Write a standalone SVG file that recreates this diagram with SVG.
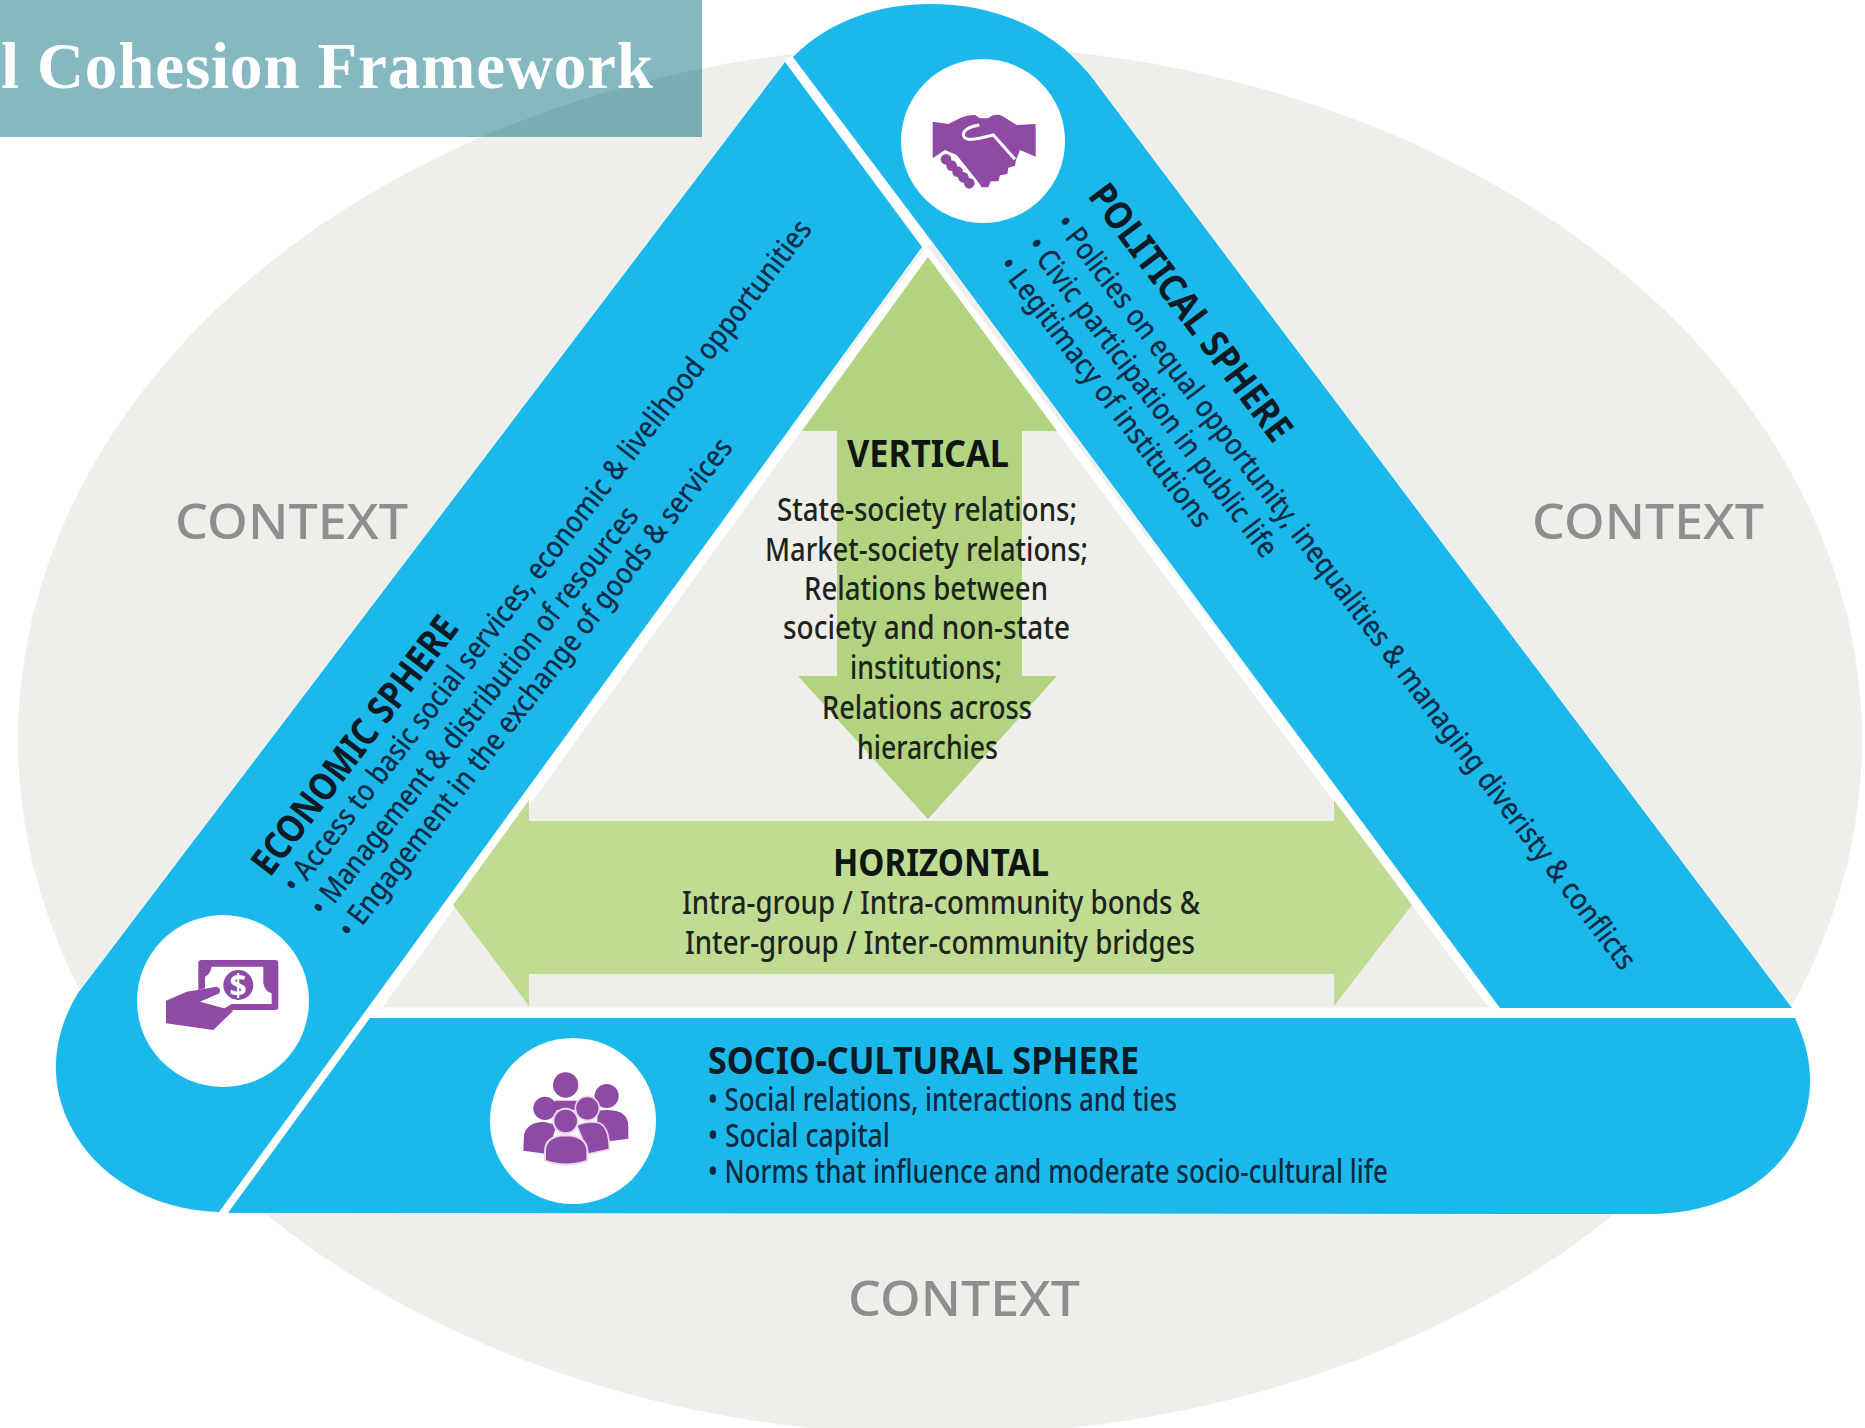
<svg xmlns="http://www.w3.org/2000/svg" width="1865" height="1428" viewBox="0 0 1865 1428">
<defs>
<style>
.band{fill:#1bb9eb;stroke:#f6fbfb;stroke-width:1.5;paint-order:stroke}
.disc{fill:#fff}
.ico{fill:#8e4aa5}
.s{font-family:"Noto Sans","Liberation Sans",sans-serif}
.ctx{font-size:49px;font-weight:500;fill:#8d8e8d;text-anchor:start}
.h{font-size:38px;font-weight:700;fill:#0f1512}
.b{font-size:33px;font-weight:500;fill:#1d2420}
.bs{font-size:33px;font-weight:500;fill:#0d2a42}
.rh{font-size:38px;font-weight:700;fill:#0b1a24}
.rb{font-size:30px;font-weight:500;fill:#0c2c48}
</style>
<clipPath id="titleClip"><rect x="0" y="0" width="702" height="137"/></clipPath>
</defs>
<rect width="1865" height="1428" fill="#fff"/>
<ellipse id="context-ground" cx="940" cy="740" rx="922" ry="695" fill="#efeeea"/>

<g id="inner-triangle">
<polygon points="927,246 1506,1012 362,1012" fill="#fff"/>
<polygon points="927,258 1489,1008 382,1008" fill="#efeeea"/>
<path d="M789,58 L928,246 M368,1013 L1800,1013 M370,1016 L224,1213" fill="none" stroke="#fff" stroke-width="11"/>
</g>

<g id="connectors">
<polygon id="vertical-arrow" fill="#b2d37f" points="928,257 1057,431 1022,431 1022,676 1057,676 928,819 798,676 837,676 837,431 802,431"/>
<polygon id="horizontal-arrow" fill="#c0dc93" points="453,905 529,800 529,821 1334,821 1334,800 1412,905 1334,1006 1334,974 529,974 529,1006"/>
</g>

<g id="economic-sphere">
<path class="band" d="M785,62 L922,247 L219,1212 C150,1210 95,1175 70,1125 C50,1085 50,1040 78,993 Z"/>
<circle class="disc" cx="223" cy="1001" r="86"/>
<g class="ico" transform="translate(150,930) scale(.3333)">
<path fill-rule="evenodd" d="M155,90 H375 Q385,90 385,100 V230 Q385,240 375,240 H215 L245,222 H365 L365,190 Q345,185 340,160 V110 H185 Q180,135 165,140 L165,175 L145,180 V100 Q145,90 155,90 Z"/>
<circle cx="265" cy="165" r="45"/>
<path d="M48,212 L110,185 L200,170 Q215,175 208,190 L150,215 L250,242 L190,300 L48,280 Z"/>
</g>
<text class="s" x="238" y="996" font-size="30" font-weight="700" fill="#fff" text-anchor="middle">$</text>
<text class="s rh" transform="translate(270,878) rotate(-52.7)" textLength="314" lengthAdjust="spacingAndGlyphs">ECONOMIC SPHERE</text>
<text class="s rb" transform="translate(297,895) rotate(-52.2)" textLength="842" lengthAdjust="spacingAndGlyphs">• Access to basic social services, economic &amp; livelihood opportunities</text>
<text class="s rb" transform="translate(324,918) rotate(-51.8)" textLength="511" lengthAdjust="spacingAndGlyphs">• Management &amp; distribution of resources</text>
<text class="s rb" transform="translate(352,940) rotate(-52.2)" textLength="623" lengthAdjust="spacingAndGlyphs">• Engagement in the exchange of goods &amp; services</text>
</g>

<g id="political-sphere">
<path class="band" d="M793,57 C830,20 880,4 930,4 C990,4 1050,25 1090,75 L1792,1008 L1500,1008 L933,243 Z"/>
<circle class="disc" cx="983" cy="141" r="82"/>
<g transform="translate(920,100) scale(.3333)">
<path class="ico" d="M38,65 L85,72 C110,60 130,45 165,45 L180,55 L205,55 C215,45 235,40 250,50 L290,75 L347,72 L347,170 L300,150 L288,180 L285,197 L265,203 L262,222 L240,226 L235,244 L212,244 L205,262 L185,262 L170,240 L110,165 L75,150 L38,175 Z"/>
<path d="M178,75 C150,80 130,90 130,105 C135,125 160,120 220,105 L285,178" fill="none" stroke="#fff" stroke-width="9"/>
<path d="M78,178 L150,250" stroke="#fff" stroke-width="40" stroke-linecap="round"/>
<g class="ico"><circle cx="78" cy="178" r="16"/><circle cx="95" cy="197" r="16"/><circle cx="113" cy="215" r="16"/><circle cx="130" cy="232" r="16"/><circle cx="148" cy="250" r="16"/></g>
</g>
<text class="s rh" transform="translate(1087,196) rotate(53.1)" textLength="311" lengthAdjust="spacingAndGlyphs">POLITICAL SPHERE</text>
<text class="s rb" transform="translate(1054,224) rotate(52.8)" textLength="939" lengthAdjust="spacingAndGlyphs">• Policies on equal opportunity, inequalities &amp; managing diveristy &amp; conflicts</text>
<text class="s rb" transform="translate(1025,246) rotate(52.8)" textLength="394" lengthAdjust="spacingAndGlyphs">• Civic participation in public life</text>
<text class="s rb" transform="translate(997,266) rotate(52.8)" textLength="331" lengthAdjust="spacingAndGlyphs">• Legitimacy of institutions</text>
</g>

<g id="socio-cultural-sphere">
<path class="band" d="M370,1018 L1795,1018 C1805,1040 1810,1060 1810,1080 C1810,1160 1740,1214 1650,1214 L228,1213 Z"/>
<circle class="disc" cx="573" cy="1121" r="83"/>
<g class="ico" transform="translate(510,1060) scale(.3333)">
<circle cx="167" cy="75" r="38"/>
<path d="M135,122 H200 V150 H135 Z"/>
<circle cx="290" cy="108" r="36"/>
<path d="M262,152 Q355,140 355,200 L355,236 L298,244 L262,200 Z"/>
<circle cx="105" cy="145" r="35"/>
<path d="M40,272 L42,225 Q50,188 100,185 L140,195 L112,282 Z"/>
<circle cx="232" cy="145" r="36" stroke="#e9d7ee" stroke-width="5"/>
<path d="M200,195 Q240,180 270,190 Q298,205 298,268 L235,282 Z" stroke="#e9d7ee" stroke-width="5"/>
<circle cx="167" cy="183" r="37" stroke="#e9d7ee" stroke-width="6"/>
<path d="M105,302 L105,270 Q108,228 167,226 Q228,228 232,270 L232,302 Q170,325 105,302 Z" stroke="#e9d7ee" stroke-width="6"/>
</g>
<text class="s rh" x="708" y="1074" textLength="431" lengthAdjust="spacingAndGlyphs">SOCIO-CULTURAL SPHERE</text>
<text class="s bs" x="708" y="1111" textLength="469" lengthAdjust="spacingAndGlyphs">• Social relations, interactions and ties</text>
<text class="s bs" x="708" y="1147" textLength="182" lengthAdjust="spacingAndGlyphs">• Social capital</text>
<text class="s bs" x="708" y="1183" textLength="680" lengthAdjust="spacingAndGlyphs">• Norms that influence and moderate socio-cultural life</text>
</g>

<g id="vertical-label">
<text class="s h" x="847" y="467" textLength="162" lengthAdjust="spacingAndGlyphs">VERTICAL</text>
<text class="s b" x="777" y="521" textLength="300" lengthAdjust="spacingAndGlyphs">State-society relations;</text>
<text class="s b" x="765" y="561" textLength="323" lengthAdjust="spacingAndGlyphs">Market-society relations;</text>
<text class="s b" x="804" y="600" textLength="244" lengthAdjust="spacingAndGlyphs">Relations between</text>
<text class="s b" x="783" y="639" textLength="287" lengthAdjust="spacingAndGlyphs">society and non-state</text>
<text class="s b" x="850" y="679" textLength="152" lengthAdjust="spacingAndGlyphs">institutions;</text>
<text class="s b" x="822" y="719" textLength="210" lengthAdjust="spacingAndGlyphs">Relations across</text>
<text class="s b" x="857" y="759" textLength="141" lengthAdjust="spacingAndGlyphs">hierarchies</text>
</g>

<g id="horizontal-label">
<text class="s h" x="833" y="876" textLength="216" lengthAdjust="spacingAndGlyphs">HORIZONTAL</text>
<text class="s b" x="682" y="914" textLength="518" lengthAdjust="spacingAndGlyphs">Intra-group / Intra-community bonds &amp;</text>
<text class="s b" x="685" y="954" textLength="510" lengthAdjust="spacingAndGlyphs">Inter-group / Inter-community bridges</text>
</g>

<g id="context-labels">
<text class="s ctx" x="175" y="539" textLength="233" lengthAdjust="spacingAndGlyphs">CONTEXT</text>
<text class="s ctx" x="1532" y="539" textLength="232" lengthAdjust="spacingAndGlyphs">CONTEXT</text>
<text class="s ctx" x="848" y="1316" textLength="232" lengthAdjust="spacingAndGlyphs">CONTEXT</text>
</g>

<g id="title">
<rect x="0" y="0" width="702" height="137" fill="#85b8c1"/>
<ellipse cx="940" cy="740" rx="922" ry="695" fill="#79adb2" clip-path="url(#titleClip)"/>
<text x="1" y="88" font-family="'Liberation Serif','Times New Roman',serif" font-size="65" font-weight="700" fill="#fff" textLength="652">l Cohesion Framework</text>
</g>
</svg>
